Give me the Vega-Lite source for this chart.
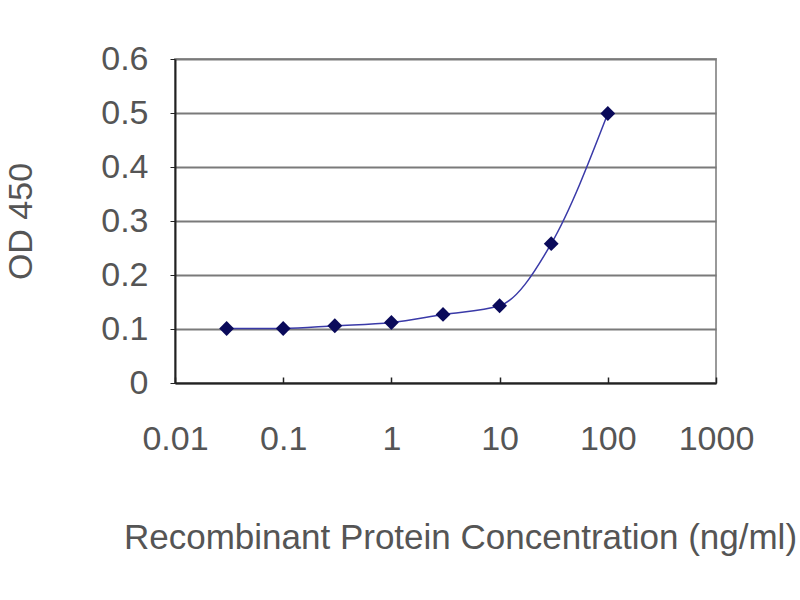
{
  "$schema": "https://vega.github.io/schema/vega-lite/v6.json",
  "autosize": {"type": "none"},
  "width": 541,
  "height": 324,
  "padding": {"left": 175, "top": 59, "right": 84, "bottom": 217},
  "background": "white",
  "data": {
    "values": [
      {"conc": 0.03, "od": 0.101},
      {"conc": 0.1, "od": 0.101},
      {"conc": 0.3, "od": 0.106},
      {"conc": 1, "od": 0.112},
      {"conc": 3, "od": 0.127},
      {"conc": 10, "od": 0.143},
      {"conc": 30, "od": 0.258},
      {"conc": 100, "od": 0.499}
    ]
  },
  "encoding": {
    "x": {
      "field": "conc",
      "type": "quantitative",
      "scale": {"type": "log", "domain": [0.01, 1000], "nice": false},
      "title": "Recombinant Protein Concentration (ng/ml)",
      "axis": {
        "values": [0.01, 0.1, 1, 10, 100, 1000],
        "format": "~g",
        "grid": false,
        "labelFlush": false,
        "labelOverlap": false,
        "domainColor": "#222",
        "domainWidth": 2,
        "tickColor": "#222",
        "tickSize": -6,
        "tickWidth": 1.5,
        "labelPadding": 45,
        "labelFont": "Liberation Sans",
        "labelFontSize": 34,
        "labelColor": "#555",
        "titleFont": "Liberation Sans",
        "titleFontSize": 35,
        "titleFontWeight": "normal",
        "titleColor": "#555",
        "titlePadding": 64,
        "titleX": 285
      }
    },
    "y": {
      "field": "od",
      "type": "quantitative",
      "scale": {"domain": [0, 0.6], "nice": false},
      "title": "OD 450",
      "axis": {
        "values": [0, 0.1, 0.2, 0.3, 0.4, 0.5, 0.6],
        "format": "~g",
        "grid": true,
        "labelFlush": false,
        "labelOverlap": false,
        "gridColor": "#7a7a7a",
        "gridWidth": 2,
        "domainColor": "#222",
        "domainWidth": 2,
        "tickColor": "#222",
        "tickSize": 5,
        "labelPadding": 22,
        "labelFont": "Liberation Sans",
        "labelFontSize": 34,
        "labelColor": "#555",
        "titleFont": "Liberation Sans",
        "titleFontSize": 34,
        "titleFontWeight": "normal",
        "titleColor": "#555",
        "titlePadding": 62
      }
    }
  },
  "layer": [
    {
      "mark": {"type": "line", "interpolate": "monotone", "color": "#3a3aa8", "strokeWidth": 1.5}
    },
    {
      "mark": {"type": "point", "shape": "diamond", "filled": true, "color": "#0a0a5a", "size": 220, "opacity": 1}
    }
  ],
  "config": {
    "view": {"stroke": "#999", "strokeWidth": 2}
  }
}
